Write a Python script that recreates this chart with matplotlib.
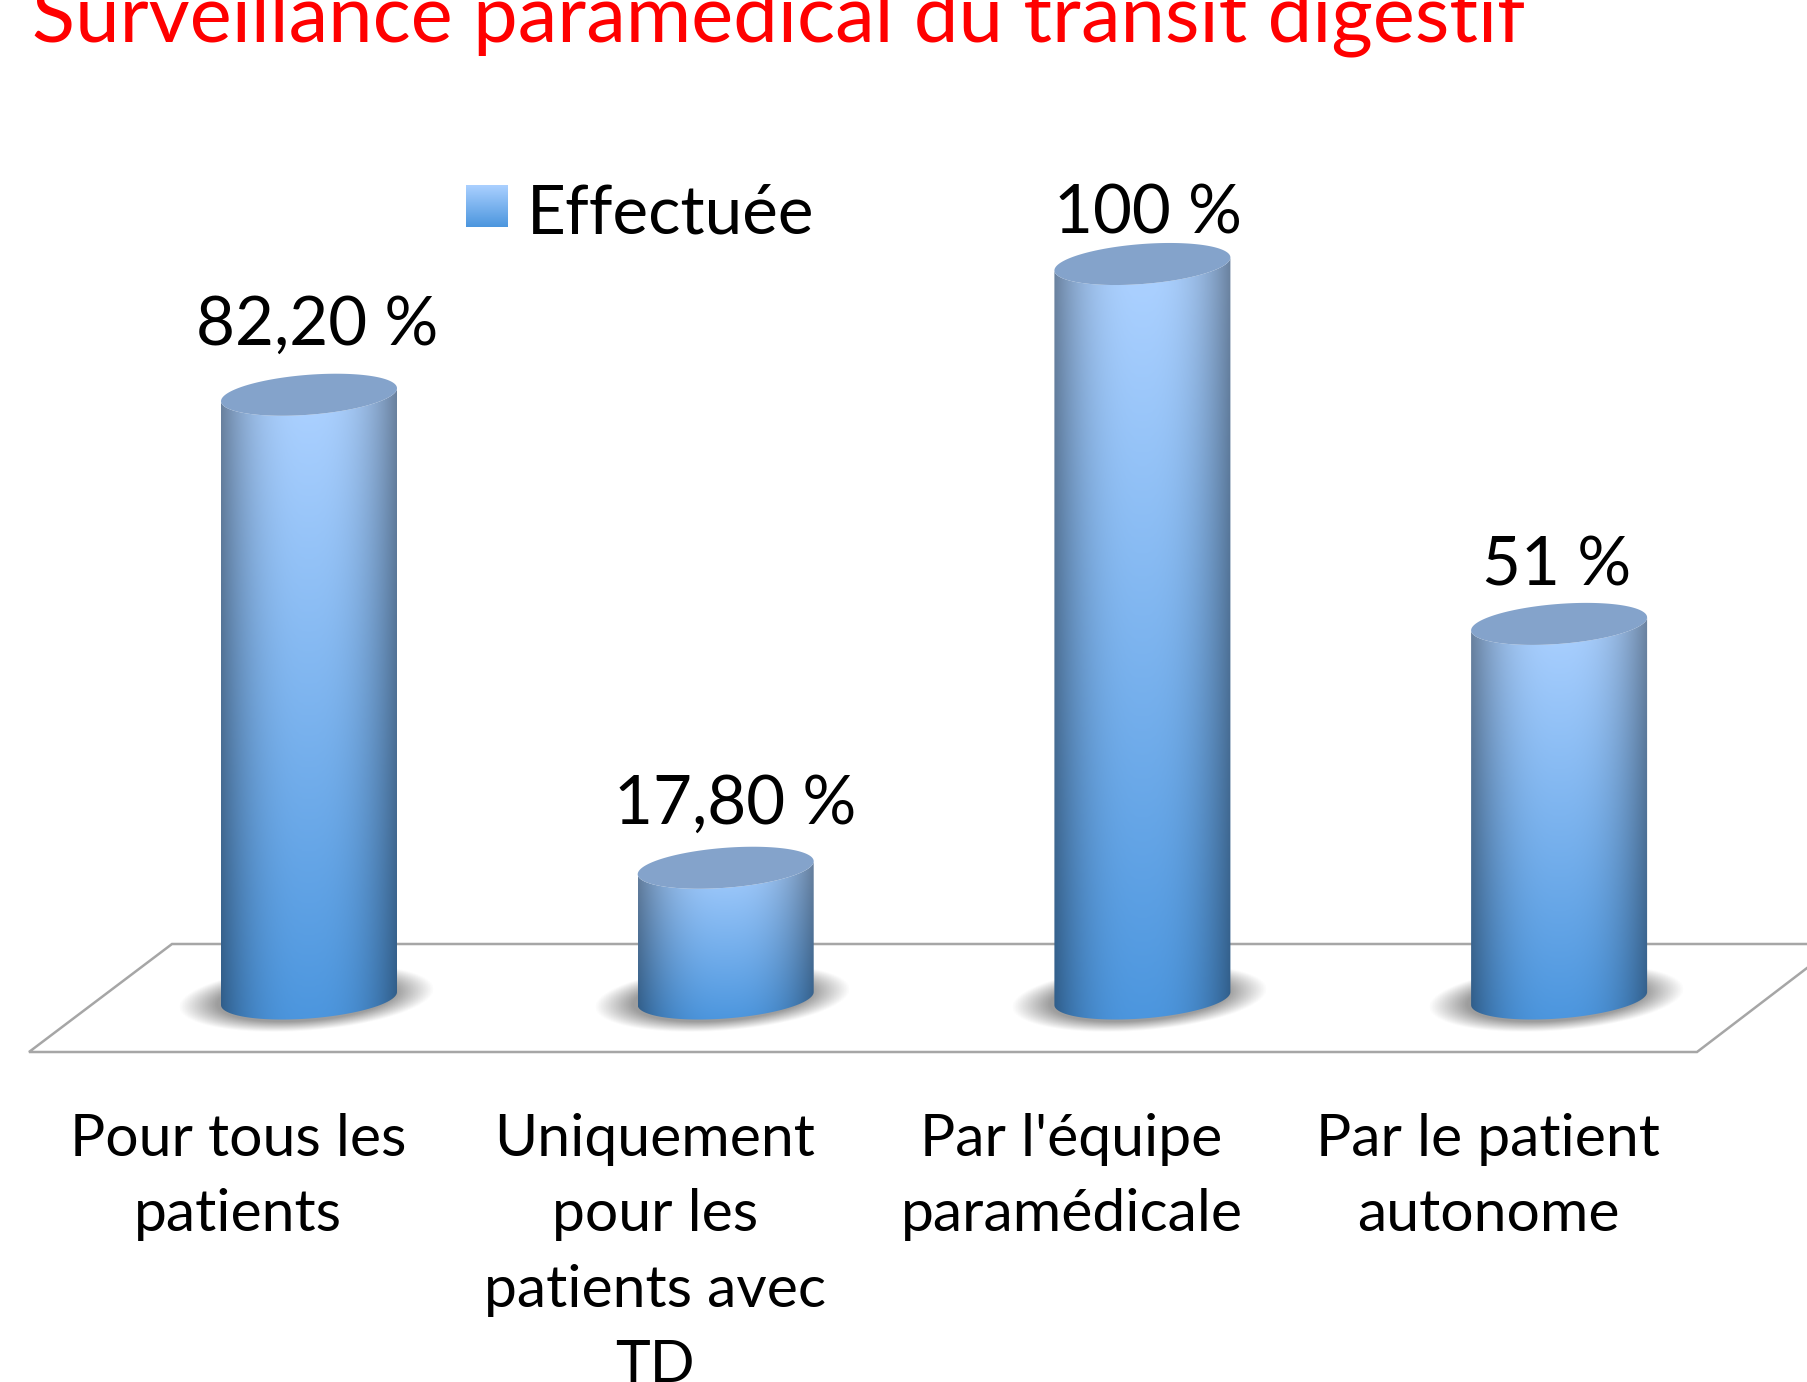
import numpy as np
import matplotlib
matplotlib.use("Agg")
import matplotlib.pyplot as plt
from matplotlib.patches import Polygon

# data
categories = [
    ["Pour tous les", "patients"],
    ["Uniquement", "pour les", "patients avec", "TD"],
    ["Par l'équipe", "paramédicale"],
    ["Par le patient", "autonome"],
]
values = [82.2, 17.8, 100, 51]
value_labels = ["82,20 %", "17,80 %", "100 %", "51 %"]
legend_label = "Effectuée"
title = "Surveillance paramédical du transit digestif"

# layout, in pixels of the 1807x1382 picture
W, H = 1807, 1382
BASE_PX = 998.5     # y of the value 0
PX_PER_UNIT = 7.345
FIRST_PX = 309      # x of the first cylinder
STEP_PX = 416.7
RX, RY, TILT = 88, 20, 6.5
LABEL_DX = [8, 9, 6, -2]
LABEL_BASE = [345, 824, 234, 586]
CAT_DX = -71
CAT_BASE = [1156, 1231, 1307, 1382]
TOP = np.array([0xaa, 0xd0, 0xff]) / 255
BOTTOM = np.array([0x4c, 0x96, 0xde]) / 255
FONT = "Lato"


def xd(px):
    return (np.asarray(px, dtype=float) - FIRST_PX) / STEP_PX


def yd(py):
    return (BASE_PX - np.asarray(py, dtype=float)) / PX_PER_UNIT


def ring(i, value, t):
    # tilted ellipse around bar i at height value
    x = i + RX * np.cos(t) / STEP_PX
    y = value + (RY * np.sin(t) + TILT * np.cos(t)) / PX_PER_UNIT
    return np.column_stack([x, y])


fig = plt.figure(figsize=(W / 100, H / 100), dpi=100)
ax = fig.add_axes([0, 0, 1, 1])

# floor
floor = dict(color="#a6a6a6", lw=1.8, solid_joinstyle="miter", zorder=1)
ax.plot(xd([W, 172, 29, 1697, W]), yd([944, 944, 1052, 1052, 968]), **floor)

for i, v in enumerate(values):
    # shadow
    gx = np.linspace(-1.3, 1.3, 200)
    gy = np.linspace(1.3, -1.3, 100)
    u, w = np.meshgrid(gx, gy)
    w = w - u * 9 / 33
    r = np.hypot(u, w)
    alpha = np.clip((1 - r) / 0.3, 0, 1) * 0.72
    img = np.dstack([np.full(u.shape, 0.47)] * 3 + [alpha])
    sx = i - 3 / STEP_PX
    ax.imshow(img, aspect="auto", zorder=2, extent=(
        sx - 1.3 * 128 / STEP_PX, sx + 1.3 * 128 / STEP_PX,
        -1.3 * 33 / PX_PER_UNIT, 1.3 * 33 / PX_PER_UNIT))

    # cylinder body, colours run over its own height
    lower = np.linspace(np.pi, 2 * np.pi, 80)
    body = np.vstack([ring(i, 0, lower), ring(i, v, lower[::-1])])
    shade = 1 - 0.38 * np.abs(np.linspace(-1, 1, 200)) ** 2.5
    fade = np.clip((np.linspace(0, 1, 200) - 0.06) / 0.94, 0, 1)[:, None, None]
    colours = (TOP * (1 - fade) + BOTTOM * fade) * shade[None, :, None]
    im = ax.imshow(np.clip(colours, 0, 1), aspect="auto", zorder=3, extent=(
        i - RX / STEP_PX, i + RX / STEP_PX,
        -(RY + 2) / PX_PER_UNIT, v + (RY + 2) / PX_PER_UNIT))
    im.set_clip_path(Polygon(body, transform=ax.transData))

    # top cap
    ax.add_patch(Polygon(ring(i, v, np.linspace(0, 2 * np.pi, 160)),
                         fc="#84a3cb", ec="none", zorder=4))

    ax.text(i + LABEL_DX[i] / STEP_PX, yd(LABEL_BASE[i]), value_labels[i],
            ha="center", va="baseline", fontsize=48.4, family=FONT, color="black", zorder=5)

    for line, base in zip(categories[i], CAT_BASE):
        ax.text(i + CAT_DX / STEP_PX, yd(base), line,
                ha="center", va="baseline", fontsize=42.4, family=FONT, color="black")

# legend
swatch = np.linspace(0, 1, 64)[:, None, None] * (BOTTOM - TOP) + TOP
ax.imshow(swatch, aspect="auto", zorder=3,
          extent=(xd(466), xd(508), yd(227), yd(185)))
ax.text(xd(527), yd(234), legend_label, ha="left", va="baseline",
        fontsize=48.6, family=FONT, color="black")

# title runs off the top of the picture
ax.text(xd(32), yd(41), title, ha="left", va="baseline",
        fontsize=57.3, family=FONT, color="#ff0000")

ax.set_xlim(xd(0), xd(W))
ax.set_ylim(yd(H), yd(0))
ax.axis("off")

fig.savefig("out.png", dpi=100)
